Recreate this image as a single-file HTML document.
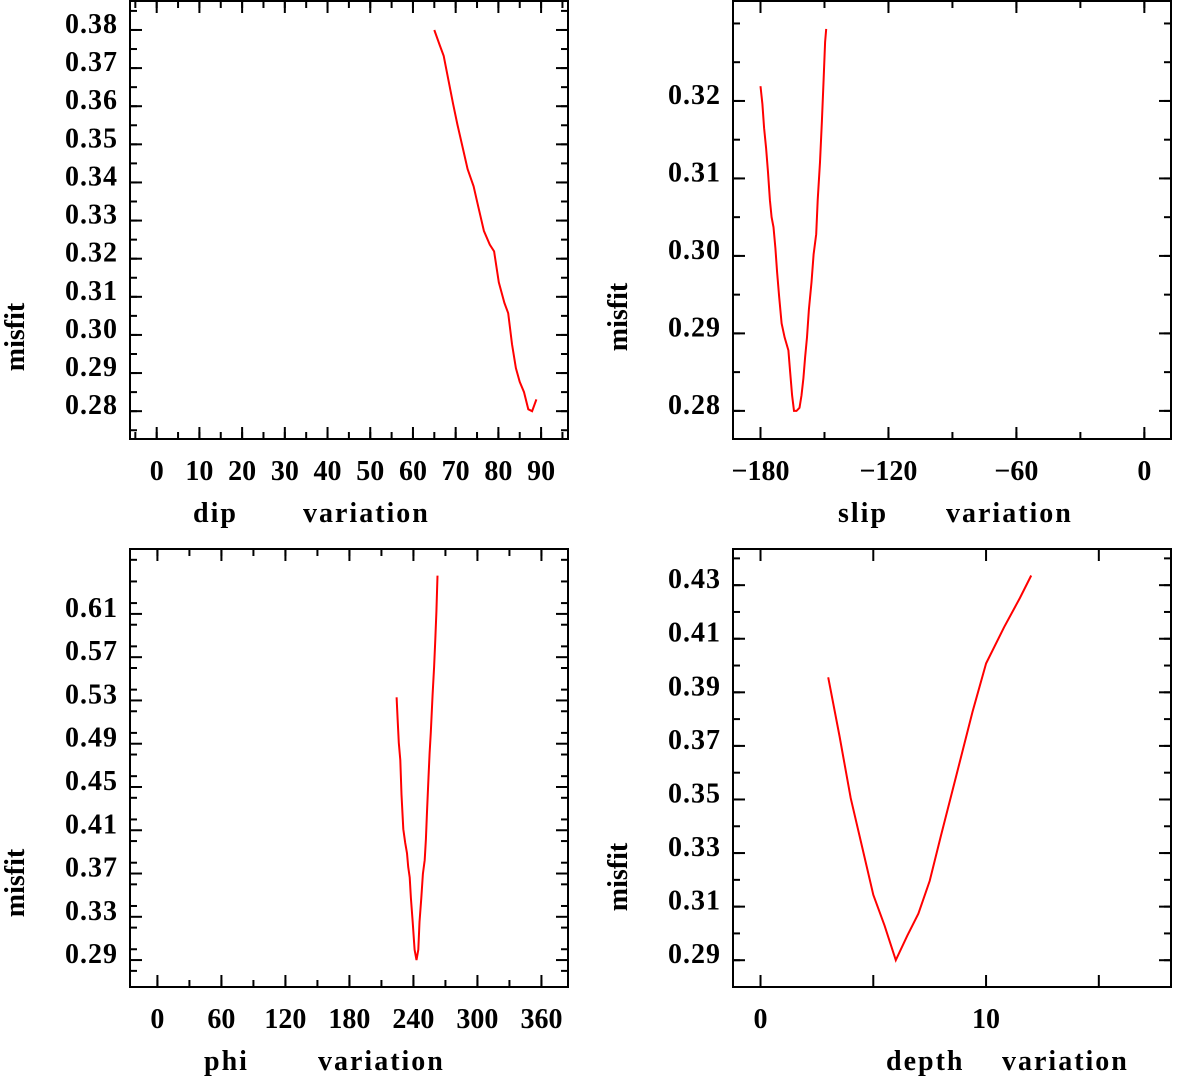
<!DOCTYPE html>
<html><head><meta charset="utf-8"><style>
html,body{margin:0;padding:0;background:#fff;}
svg{display:block;}
text{font-family:"Liberation Serif","DejaVu Serif",serif;font-weight:bold;fill:#000;}
</style></head><body>
<svg id="chart" width="1183" height="1077" viewBox="0 0 1183 1077" xmlns="http://www.w3.org/2000/svg"></svg>
<script>
// dip panel
const dipX = [65,66.3,67.2,68.3,69.4,70.4,71.7,72.8,74.2,75.3,76.6,78,79,80.1,81.4,82.3,83.2,84.1,85,86,87,87.9,88.9];
const dipY = [0.38,0.3759,0.3732,0.3669,0.3606,0.3552,0.3489,0.3435,0.339,0.3336,0.3273,0.3237,0.3219,0.3138,0.3084,0.3057,0.2976,0.2913,0.2877,0.285,0.2805,0.28,0.2831];
const dipXTicks = [0,10,20,30,40,50,60,70,80,90];
const dipYTicks = ["0.28","0.29","0.30","0.31","0.32","0.33","0.34","0.35","0.36","0.37","0.38"];
// slip panel
const slipX = [-180,-179.1,-178.3,-177.4,-176.5,-175.6,-174.8,-173.9,-173.0,-172.2,-171.3,-170.1,-168.7,-166.9,-166.1,-165.2,-164.3,-163.1,-161.7,-160.8,-159.9,-159.1,-158.2,-157.3,-156.1,-155.1,-153.9,-153.2,-152.1,-151.2,-150.4,-149.7,-149.2];
const slipY = [0.3219,0.3196,0.3165,0.3139,0.3108,0.3072,0.305,0.3037,0.301,0.2979,0.2948,0.2913,0.2895,0.2878,0.2851,0.282,0.28,0.28,0.2804,0.282,0.2842,0.2869,0.2895,0.2931,0.2966,0.3002,0.3028,0.3072,0.3121,0.3174,0.3227,0.3276,0.3293];
const slipXTicks = [-180,-120,-60,0];
const slipYTicks = ["0.28","0.29","0.30","0.31","0.32"];
// phi panel
const phiX = [224.2,225.2,226.3,227.7,228.8,230.5,232.3,234.0,235.1,236.5,237.6,239.3,241.1,242.9,244.6,245.7,247.4,248.9,250.6,251.7,252.7,254.1,255.2,256.3,258.0,259.4,260.5,261.5,262.6];
const phiY = [0.5329,0.5131,0.4908,0.4749,0.443,0.4111,0.3984,0.3888,0.3761,0.3665,0.3474,0.3251,0.2996,0.29,0.2996,0.3251,0.3474,0.3697,0.3824,0.4016,0.4271,0.4589,0.4812,0.5004,0.5354,0.5609,0.5864,0.6119,0.6454];
const phiXTicks = [0,60,120,180,240,300,360];
const phiYTicks = ["0.29","0.33","0.37","0.41","0.45","0.49","0.53","0.57","0.61"];
// depth panel
const depthX = [3,3.5,4,4.5,5,5.5,6,6.5,7,7.5,8,8.7,9.4,10,10.8,11.5,12];
const depthY = [0.3956,0.3737,0.3505,0.3325,0.3144,0.3029,0.29,0.299,0.3074,0.3196,0.3364,0.3595,0.3827,0.4008,0.4143,0.4252,0.4336];
const depthXTicks = [0,5,10,15];
const depthXLabels = ["0","","10",""];
const depthYTicks = ["0.29","0.31","0.33","0.35","0.37","0.39","0.41","0.43"];

const NS = "http://www.w3.org/2000/svg";
const svg = document.getElementById("chart");
function mk(tag, attrs, parent){
  const e = document.createElementNS(NS, tag);
  for (const k in attrs) e.setAttribute(k, attrs[k]);
  (parent||svg).appendChild(e);
  return e;
}

function panel(cfg){
  const g = mk("g", {});
  
  
  const L=cfg.L, R=cfg.R, T=cfg.T, B=cfg.B;
  const sx = v => L + (v - cfg.xmin) / (cfg.xmax - cfg.xmin) * (R - L);
  const sy = v => B - (v - cfg.ymin) / (cfg.ymax - cfg.ymin) * (B - T);
  const frame = mk("rect", {x:L, y:T, width:R-L, height:B-T, fill:"none", stroke:"#000", "stroke-width":2}, g);
  
  
  // minor x ticks
  if (cfg.xMinor) {
    for (let v = Math.ceil(cfg.xmin / cfg.xMinor) * cfg.xMinor; v <= cfg.xmax; v += cfg.xMinor) {
      const x = sx(v);
      mk("line", {x1:x, y1:B, x2:x, y2:B-7, stroke:"#000", "stroke-width":2}, g);
      mk("line", {x1:x, y1:T, x2:x, y2:T+7, stroke:"#000", "stroke-width":2}, g);
    }
  }
  cfg.xTicks.forEach((v, i) => {
    const x = sx(v);
    mk("line", {x1:x, y1:B, x2:x, y2:B-12, stroke:"#000", "stroke-width":2}, g);
    mk("line", {x1:x, y1:T, x2:x, y2:T+12, stroke:"#000", "stroke-width":2}, g);
    const lab = cfg.xLabels ? cfg.xLabels[i] : (v < 0 ? "\u2212" + (-v) : String(v));
    if (lab) {
      const t = mk("text", {x:x, y:B+41, "text-anchor":"middle", "font-size":28}, g);
      t.textContent = lab;
      
      
    }
  });
  // minor y ticks
  for (let v = Math.ceil(cfg.ymin / cfg.yMinor - 1e-6) * cfg.yMinor; v <= cfg.ymax; v += cfg.yMinor) {
    const y = sy(v);
    mk("line", {x1:L, y1:y, x2:L+7, y2:y, stroke:"#000", "stroke-width":2}, g);
    mk("line", {x1:R, y1:y, x2:R-7, y2:y, stroke:"#000", "stroke-width":2}, g);
  }
  cfg.yTicks.forEach(s => {
    const y = sy(parseFloat(s));
    mk("line", {x1:L, y1:y, x2:L+12, y2:y, stroke:"#000", "stroke-width":2}, g);
    mk("line", {x1:R, y1:y, x2:R-12, y2:y, stroke:"#000", "stroke-width":2}, g);
    const t = mk("text", {x:L-12, y:y+3, "text-anchor":"end", "font-size":28, "letter-spacing":"1"}, g);
    t.textContent = s;
    
    
  });
  const pts = cfg.xs.map((v, i) => sx(v).toFixed(1) + "," + sy(cfg.ys[i]).toFixed(1)).join(" ");
  const line = mk("polyline", {points:pts, fill:"none", stroke:"#ff0000", "stroke-width":2}, g);
  
  
  const yl = mk("text", {x:0, y:0, "text-anchor":"middle", "font-size":28, transform:"translate(" + (cfg.yLabX) + "," + cfg.yLabY + ") rotate(-90)"}, g);
  yl.textContent = "misfit";
  
  
  const x1 = mk("text", {x:cfg.t1x, y:cfg.tY, "font-size":28, "letter-spacing":"2"}, g);
  x1.textContent = cfg.name;
  
  
  const x2 = mk("text", {x:cfg.t2x, y:cfg.tY, "font-size":28, "letter-spacing":"2"}, g);
  x2.textContent = "variation";
  
  
}

panel({name:"dip", L:130, R:568, T:1, B:439, xmin:-6.25, xmax:96.3, ymin:0.2727, ymax:0.3876,
  xTicks:dipXTicks, xMinor:5, yTicks:dipYTicks, yMinor:0.005, xs:dipX, ys:dipY,
  yLabX:24, yLabY:337, t1x:193, t2x:303, tY:522});
panel({name:"slip", L:733, R:1171, T:1, B:439, xmin:-192.9, xmax:12.5, ymin:0.27637, ymax:0.3329,
  xTicks:slipXTicks, xMinor:30, yTicks:slipYTicks, yMinor:0.005, xs:slipX, ys:slipY,
  yLabX:627, yLabY:317, t1x:838, t2x:946, tY:522});
panel({name:"phi", L:130, R:568, T:549, B:987, xmin:-25.7, xmax:384.9, ymin:0.2651, ymax:0.67,
  xTicks:phiXTicks, xMinor:30, yTicks:phiYTicks, yMinor:0.02, xs:phiX, ys:phiY,
  yLabX:24, yLabY:883, t1x:204, t2x:318, tY:1070});
panel({name:"depth", L:733, R:1171, T:549, B:987, xmin:-1.22, xmax:18.2, ymin:0.28, ymax:0.4435,
  xTicks:depthXTicks, xLabels:depthXLabels, xMinor:0, yTicks:depthYTicks, yMinor:0.01, xs:depthX, ys:depthY,
  yLabX:627, yLabY:877, t1x:886, t2x:1002, tY:1070});
</script>
</body></html>
